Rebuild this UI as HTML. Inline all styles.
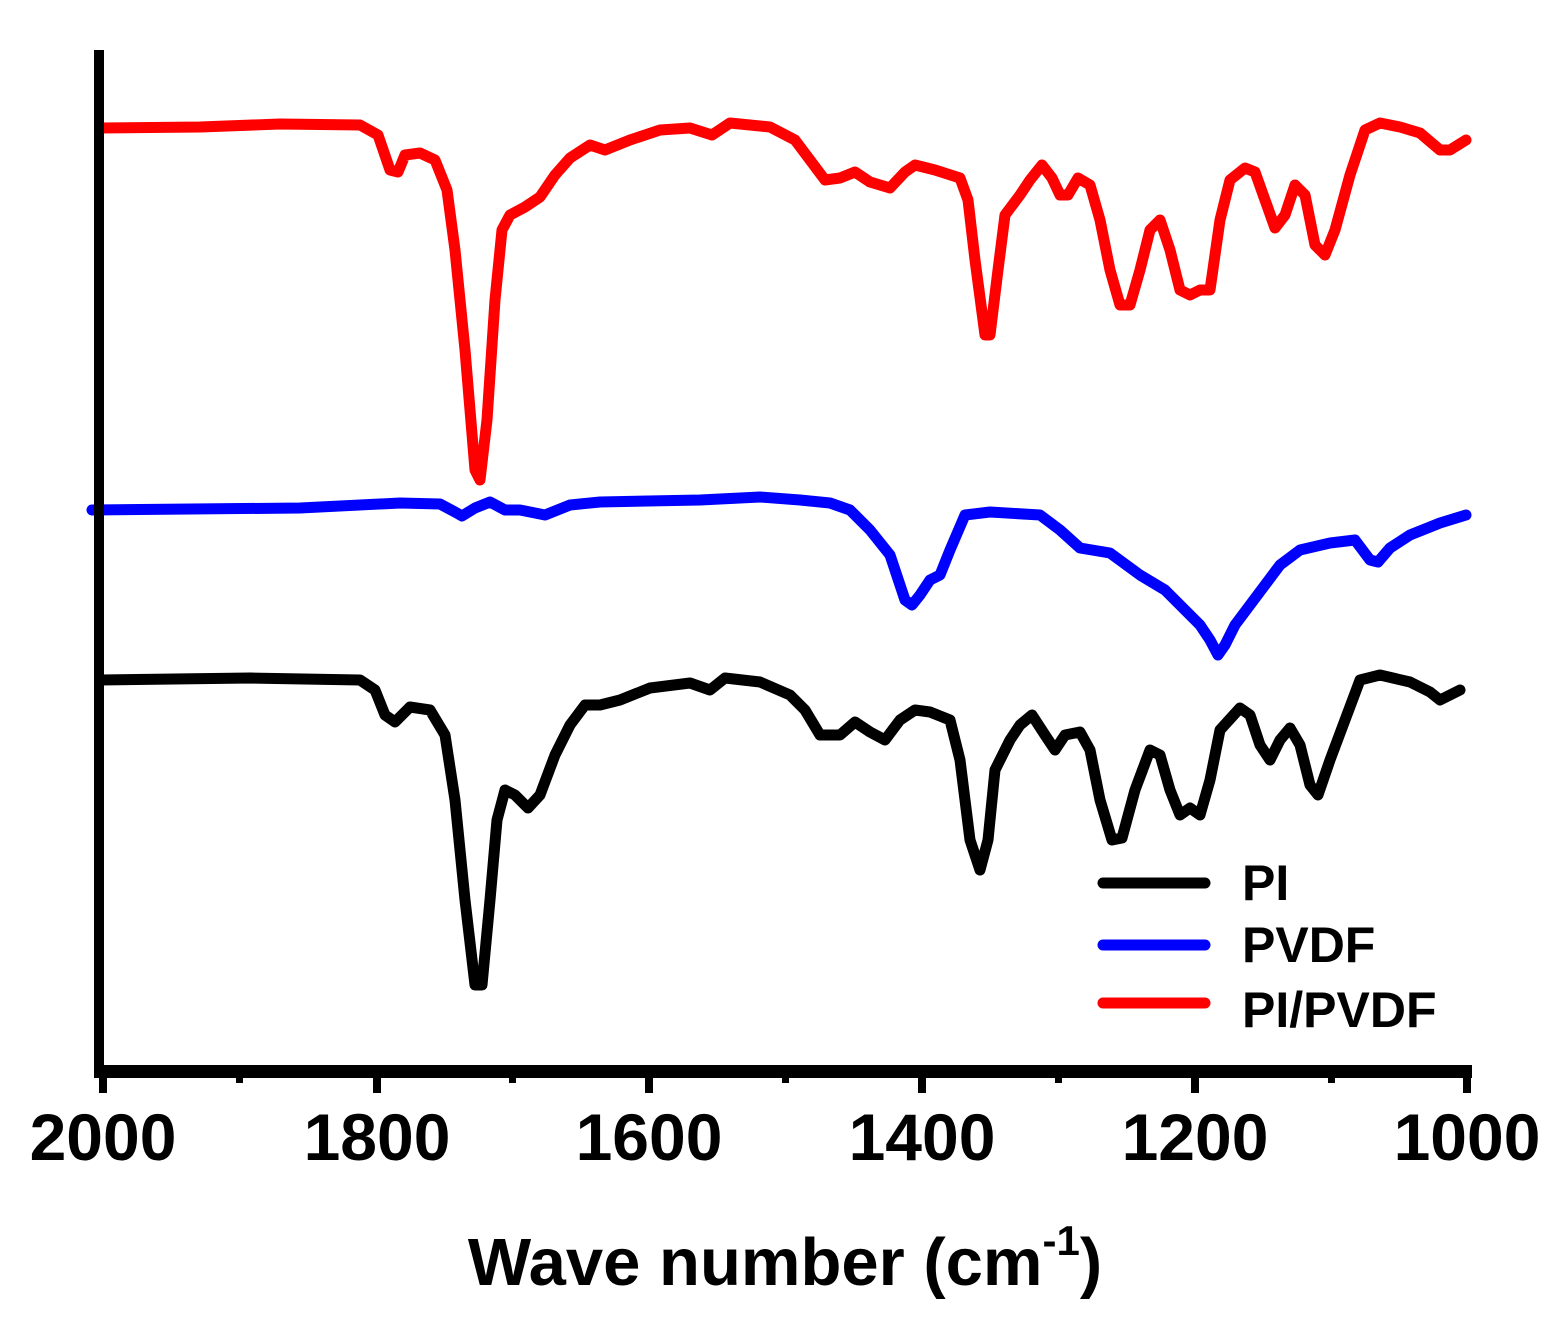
<!DOCTYPE html>
<html><head><meta charset="utf-8"><style>html,body{margin:0;padding:0;background:#fff}svg{display:block}</style></head>
<body>
<svg width="1566" height="1317" viewBox="0 0 1566 1317" xmlns="http://www.w3.org/2000/svg" font-family="Liberation Sans, Arial, sans-serif" font-weight="bold">
<rect width="1566" height="1317" fill="#fff"/>
<g fill="none" stroke-width="11" stroke-linejoin="round" stroke-linecap="round">
<polyline stroke="#ff0000" points="100,128 200,127 280,124 360,125 378,135 390,170 398,172 405,155 420,153 435,160 447,190 455,250 465,350 475,470 480,480 487,420 495,300 502,230 510,215 525,207 540,197 555,175 570,158 590,145 605,150 630,140 660,130 690,128 712,135 730,123 770,127 795,140 810,160 825,180 840,178 855,172 870,182 890,188 905,172 915,165 935,170 960,178 968,200 975,260 985,335 990,335 998,270 1005,215 1020,195 1030,180 1042,165 1052,178 1060,195 1068,195 1078,178 1090,185 1100,220 1110,270 1120,305 1130,305 1140,270 1150,230 1160,220 1170,250 1180,290 1190,295 1200,290 1210,290 1220,220 1230,180 1245,168 1255,172 1265,200 1275,228 1285,215 1295,185 1305,195 1315,245 1325,255 1335,230 1350,175 1365,130 1380,123 1400,127 1420,133 1440,150 1450,150 1466,140"/>
<polyline stroke="#0000ff" points="92,510 300,508 400,503 440,504 455,512 462,516 475,508 490,502 505,510 520,510 545,515 570,505 600,502 700,500 760,497 800,500 830,503 850,510 870,530 890,555 905,600 912,605 920,595 930,580 940,575 950,550 965,515 990,512 1040,515 1060,530 1080,548 1110,553 1140,575 1165,590 1185,610 1200,625 1210,640 1218,655 1225,645 1235,625 1250,605 1265,585 1280,565 1300,550 1330,543 1355,540 1370,560 1378,562 1390,548 1410,535 1440,523 1466,515"/>
<polyline stroke="#000" points="100,680 250,678 360,680 375,690 385,715 395,722 410,707 430,710 445,735 455,800 465,900 475,985 482,985 490,900 497,820 505,790 515,795 528,808 540,795 555,755 570,725 585,705 600,705 620,700 650,688 690,683 710,690 725,678 760,682 790,695 805,710 820,735 840,735 855,722 870,732 885,740 900,720 915,710 930,712 950,720 960,760 970,840 980,870 988,840 995,770 1010,740 1020,725 1032,715 1045,735 1055,750 1065,735 1080,732 1090,750 1100,800 1112,840 1122,838 1135,790 1150,750 1160,755 1170,790 1180,815 1190,808 1200,815 1210,780 1220,730 1240,708 1250,715 1260,745 1270,760 1280,740 1290,728 1300,745 1310,785 1318,795 1330,760 1345,720 1360,680 1380,675 1410,682 1430,692 1440,700 1460,690"/>
</g>
<rect x="94" y="50" width="10" height="1028" fill="#000"/>
<rect x="94" y="1065" width="1378" height="13" fill="#000"/>
<g fill="#000">
<rect x="99" y="1070" width="8" height="23"/><rect x="373" y="1070" width="8" height="23"/><rect x="645" y="1070" width="8" height="23"/><rect x="918" y="1070" width="8" height="23"/><rect x="1191" y="1070" width="8" height="23"/><rect x="1463" y="1070" width="8" height="23"/>
<rect x="236" y="1070" width="7" height="13"/><rect x="509" y="1070" width="7" height="13"/><rect x="782" y="1070" width="7" height="13"/><rect x="1055" y="1070" width="7" height="13"/><rect x="1328" y="1070" width="7" height="13"/>
</g>
<g font-size="66" text-anchor="middle" fill="#000">
<text x="103" y="1160">2000</text><text x="377" y="1160">1800</text><text x="649" y="1160">1600</text><text x="922" y="1160">1400</text><text x="1195" y="1160">1200</text><text x="1467" y="1160">1000</text>
</g>
<text x="785" y="1285" font-size="67" text-anchor="middle">Wave number (cm<tspan font-size="42" dy="-30">-1</tspan><tspan dy="30">)</tspan></text>
<g stroke-width="11" stroke-linecap="round">
<line x1="1103" y1="883" x2="1205" y2="883" stroke="#000"/>
<line x1="1103" y1="945" x2="1205" y2="945" stroke="#0000ff"/>
<line x1="1103" y1="1003" x2="1205" y2="1003" stroke="#ff0000"/>
</g>
<g font-size="50" fill="#000">
<text x="1242" y="900">PI</text><text x="1242" y="962">PVDF</text><text x="1242" y="1027">PI/PVDF</text>
</g>
</svg>
</body></html>
